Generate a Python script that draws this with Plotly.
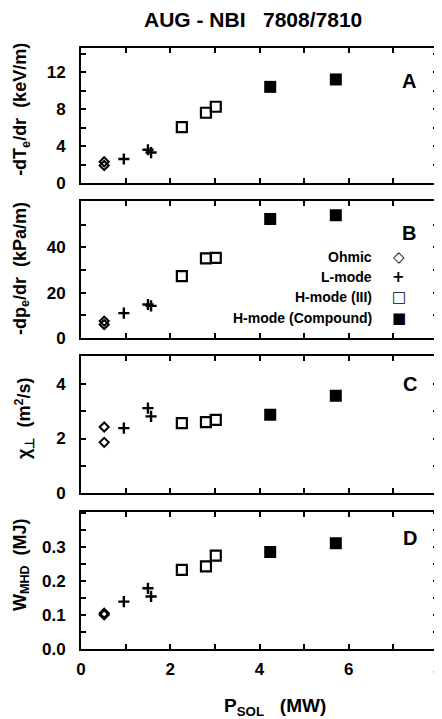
import plotly.graph_objects as go

# ---------------- data ----------------
p_ohmic = [0.52, 0.52]
p_lmode = [0.96, 1.50, 1.57]
p_h3 = [2.26, 2.80, 3.02]
p_hc = [4.24, 5.71]

# panel A: -dTe/dr (keV/m)
a_ohmic = [2.3, 1.9]
a_lmode = [2.6, 3.6, 3.3]
a_h3 = [6.05, 7.6, 8.25]
a_hc = [10.4, 11.2]

# panel B: -dpe/dr (kPa/m)
b_ohmic = [7.5, 6.0]
b_lmode = [11.0, 14.8, 14.2]
b_h3 = [27.3, 35.1, 35.3]
b_hc = [52.4, 54.1]

# panel C: chi_perp (m^2/s)
c_ohmic = [2.42, 1.86]
c_lmode = [2.38, 3.11, 2.81]
c_h3 = [2.56, 2.60, 2.68]
c_hc = [2.87, 3.56]

# panel D: W_MHD (MJ)
d_ohmic = [0.105, 0.100]
d_lmode = [0.139, 0.178, 0.154]
d_h3 = [0.232, 0.242, 0.274]
d_hc = [0.284, 0.310]

legend_labels = ["Ohmic", "L-mode", "H-mode (III)", "H-mode (Compound)"]
legend_glyphs = ["\u25c7", "+", "\u25a1", "\u25a0"]

x_tickvals = [0, 1, 2, 3, 4, 5, 6, 7, 8]
x_ticktext = ["0", "", "2", "", "4", "", "6", "", "8"]
a_tickvals = [0, 2, 4, 6, 8, 10, 12, 14]
a_ticktext = ["0", "", "4", "", "8", "", "12", ""]
b_tickvals = [0, 10, 20, 30, 40, 50]
b_ticktext = ["0", "", "20", "", "40", ""]
c_tickvals = [0, 1, 2, 3, 4, 5]
c_ticktext = ["0", "", "2", "", "4", ""]
d_tickvals = [0, 0.05, 0.1, 0.15, 0.2, 0.25, 0.3, 0.35, 0.4]
d_ticktext = ["0.0", "", "0.1", "", "0.2", "", "0.3", "", ""]

# ---------------- layout geometry ----------------
W, H = 442, 719
L, R, T, B = 73, 435, 40, 640.7
PW, PH = R - L, B - T


def px_x(px):
    return (px - L) / PW


def px_y(py):
    return (B - py) / PH


panels = [(40, 175), (193.3, 330), (348.3, 485), (503.3, 640.7)]

FONT = "Liberation Sans, Arial, Helvetica, sans-serif"

fig = go.Figure()

styles = {
    "ohmic": dict(symbol="diamond-open", size=7, color="black", line=dict(width=2, color="black")),
    "lmode": dict(symbol="cross-thin-open", size=8, color="black", line=dict(width=2.4, color="black")),
    "h3": dict(symbol="square-open", size=10, color="black", line=dict(width=2.2, color="black")),
    "hc": dict(symbol="square", size=12, color="black", line=dict(width=0)),
}

datasets = [
    (a_ohmic, a_lmode, a_h3, a_hc),
    (b_ohmic, b_lmode, b_h3, b_hc),
    (c_ohmic, c_lmode, c_h3, c_hc),
    (d_ohmic, d_lmode, d_h3, d_hc),
]

for i, (yo, yl, yh, yc) in enumerate(datasets):
    suffix = "" if i == 0 else str(i + 1)
    for xs, ys, key in [(p_ohmic, yo, "ohmic"), (p_lmode, yl, "lmode"),
                        (p_h3, yh, "h3"), (p_hc, yc, "hc")]:
        fig.add_trace(go.Scatter(x=xs, y=ys, mode="markers", marker=styles[key],
                                 xaxis="x" + suffix, yaxis="y" + suffix,
                                 showlegend=False, hoverinfo="skip"))

axis_common = dict(showgrid=False, zeroline=False, showline=True, linecolor="black",
                   linewidth=2, ticks="inside", ticklen=5, tickwidth=2, tickcolor="black",
                   mirror="ticks",
                   tickfont=dict(family=FONT, size=17, color="black", weight="bold"))

yranges = [[0, 14.6], [0, 60.2], [0, 5.0], [0, 0.403]]
yticks = [(a_tickvals, a_ticktext), (b_tickvals, b_ticktext),
          (c_tickvals, c_ticktext), (d_tickvals, d_ticktext)]

lay = {}
for i, (top, bot) in enumerate(panels):
    suffix = "" if i == 0 else str(i + 1)
    xa = dict(axis_common, range=[0, 8.0001], tickvals=x_tickvals, ticktext=x_ticktext,
              anchor="y" + suffix, domain=[0, 1], showticklabels=(i == 3),
              ticklabeloverflow="allow", ticklabelstandoff=4)
    if i > 0:
        xa["matches"] = "x"
    ya = dict(axis_common, range=yranges[i], tickvals=yticks[i][0], ticktext=yticks[i][1],
              anchor="x" + suffix, domain=[px_y(bot), px_y(top)], ticklabelstandoff=10)
    lay["xaxis" + suffix] = xa
    lay["yaxis" + suffix] = ya

fig.update_layout(**lay)

ann = []
# title
ann.append(dict(text="AUG\u00a0-\u00a0NBI\u00a0\u00a0\u00a07808/7810", x=px_x(247), y=px_y(12),
                xref="paper", yref="paper", showarrow=False, xanchor="center", yanchor="middle",
                font=dict(family=FONT, size=21, color="black", weight="bold")))
# panel letters
for letter, (cx, cy) in zip("ABCD", [(406, 73), (406, 225), (407, 376), (407, 530)]):
    ann.append(dict(text=letter, x=px_x(cx), y=px_y(cy), xref="paper", yref="paper",
                    showarrow=False, xanchor="center", yanchor="middle",
                    font=dict(family=FONT, size=20, color="black", weight="bold")))
# y titles
ytitles = [
    ("-dT<sub>e</sub>/dr\u00a0\u00a0(keV/m)", 12, 101),
    ("-dp<sub>e</sub>/dr\u00a0\u00a0(kPa/m)", 12, 260),
    ("\u03c7<sub>\u22a5</sub>\u00a0\u00a0(m<sup>2</sup>/s)", 15, 410),
    ("W<sub>MHD</sub>\u00a0\u00a0(MJ)", 12, 556),
]
for txt, cx, cy in ytitles:
    ann.append(dict(text=txt, x=px_x(cx), y=px_y(cy), xref="paper", yref="paper",
                    showarrow=False, xanchor="center", yanchor="middle", textangle=-90,
                    font=dict(family=FONT, size=18, color="black", weight="bold")))
# x title
ann.append(dict(text="P<sub>SOL</sub>\u00a0\u00a0\u00a0(MW)", x=px_x(270), y=px_y(699),
                xref="paper", yref="paper", showarrow=False, xanchor="center", yanchor="middle",
                font=dict(family=FONT, size=19, color="black", weight="bold")))
# legend
for lab, gl, cy in zip(legend_labels, legend_glyphs, [249, 269.3, 289.3, 310]):
    ann.append(dict(text=lab, x=px_x(370), y=px_y(cy), xref="paper", yref="paper",
                    showarrow=False, xanchor="right", yanchor="middle",
                    font=dict(family=FONT, size=14, color="black", weight="bold")))
    ann.append(dict(text=gl, x=px_x(395), y=px_y(cy), xref="paper", yref="paper",
                    showarrow=False, xanchor="center", yanchor="middle",
                    font=dict(family="DejaVu Sans", size=15, color="black", weight="bold")))

fig.update_layout(annotations=ann, width=W, height=H,
                  margin=dict(l=L, r=W - R, t=T, b=H - B, pad=0),
                  paper_bgcolor="white", plot_bgcolor="white", showlegend=False)

fig.write_html("out.html")
